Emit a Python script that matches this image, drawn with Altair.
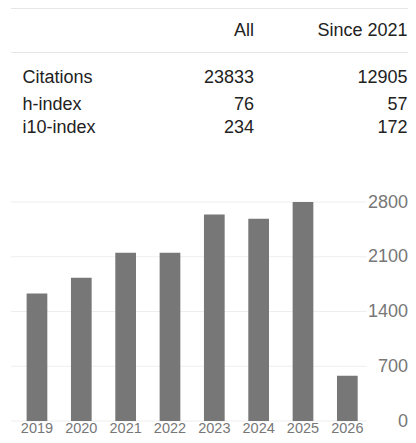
import altair as alt
import pandas as pd

# ---- data ----
years = ["2019", "2020", "2021", "2022", "2023", "2024", "2025", "2026"]
citations = [1630, 1830, 2150, 2150, 2640, 2585, 2800, 580]
metrics = ["Citations", "h-index", "i10-index"]
all_vals = [23833, 76, 234]
since_vals = [12905, 57, 172]
headers = ["All", "Since 2021"]
y_ticks = [0, 700, 1400, 2100, 2800]

FONT = "Liberation Sans"
TXT = "#222222"
GREY = "#777777"
TFS = 18

bars_df = pd.DataFrame({"year": years, "citations": citations})
names_df = pd.DataFrame({"metric": metrics, "row": list(range(len(metrics)))})
vals_rows = []
for i, m in enumerate(metrics):
    vals_rows.append({"row": i, "col": 0, "text": str(all_vals[i])})
    vals_rows.append({"row": i, "col": 1, "text": str(since_vals[i])})
vals_df = pd.DataFrame(vals_rows)
head_df = pd.DataFrame({"label": headers, "col": [0, 1]})
grid_df = pd.DataFrame({"tick": y_ticks})
lines_df = pd.DataFrame({"line": [0, 1]})

W = 400
row_scale = alt.Scale(domain=[0, 1, 2], range=[75, 101.5, 125])
col_scale = alt.Scale(domain=[0, 1], range=[246, W - 0.5])
yscale = alt.Scale(domain=[0, 2800], range=[413, 194])

table_lines = alt.Chart(lines_df).mark_rule(color="#e6e6e6", strokeWidth=1).encode(
    y=alt.Y("line:Q", scale=alt.Scale(domain=[0, 1], range=[0.5, 44.5]), axis=None),
    x=alt.value(3),
    x2=alt.value(W),
)

header = alt.Chart(head_df).mark_text(
    font=FONT, fontSize=TFS, color=TXT, align="right", baseline="alphabetic"
).encode(
    x=alt.X("col:Q", scale=col_scale, axis=None),
    y=alt.value(28),
    text="label:N",
)

names = alt.Chart(names_df).mark_text(
    font=FONT, fontSize=TFS, color=TXT, align="left", baseline="alphabetic"
).encode(
    x=alt.value(14.5),
    y=alt.Y("row:Q", scale=row_scale, axis=None),
    text="metric:N",
)

values = alt.Chart(vals_df).mark_text(
    font=FONT, fontSize=TFS, color=TXT, align="right", baseline="alphabetic"
).encode(
    x=alt.X("col:Q", scale=col_scale, axis=None),
    y=alt.Y("row:Q", scale=row_scale, axis=None),
    text="text:N",
)

grid = alt.Chart(grid_df).mark_rule(color="#eeeeee", strokeWidth=1).encode(
    y=alt.Y("tick:Q", scale=yscale, axis=None),
    x=alt.value(3),
    x2=alt.value(358.7),
)

bars = alt.Chart(bars_df).mark_bar(color=GREY).encode(
    x=alt.X(
        "year:O",
        scale=alt.Scale(range=[6.8, 361.5], paddingInner=0.533, paddingOuter=0.2665),
        axis=alt.Axis(
            title=None, labelAngle=0, domain=False, ticks=False, grid=False,
            labelFont=FONT, labelFontSize=14.5, labelColor=GREY, labelPadding=0,
        ),
    ),
    y=alt.Y(
        "citations:Q",
        scale=yscale,
        axis=alt.Axis(
            orient="right", title=None, values=y_ticks, format="d", domain=False,
            ticks=False, grid=False, labelAlign="right", labelPadding=-0.5,
            labelFont=FONT, labelFontSize=18, labelColor=GREY, labelBaseline="middle",
        ),
    ),
)

chart = (
    alt.layer(table_lines, header, names, values, grid, bars)
    .resolve_scale(x="independent", y="independent")
    .properties(
        width=W,
        height=413,
        autosize=alt.AutoSizeParams(type="none"),
        padding={"left": 0, "top": 0, "right": 0, "bottom": 13},
    )
    .configure_view(strokeWidth=0)
)

chart.save("out.html", embed_options={"renderer": "svg", "actions": False})
